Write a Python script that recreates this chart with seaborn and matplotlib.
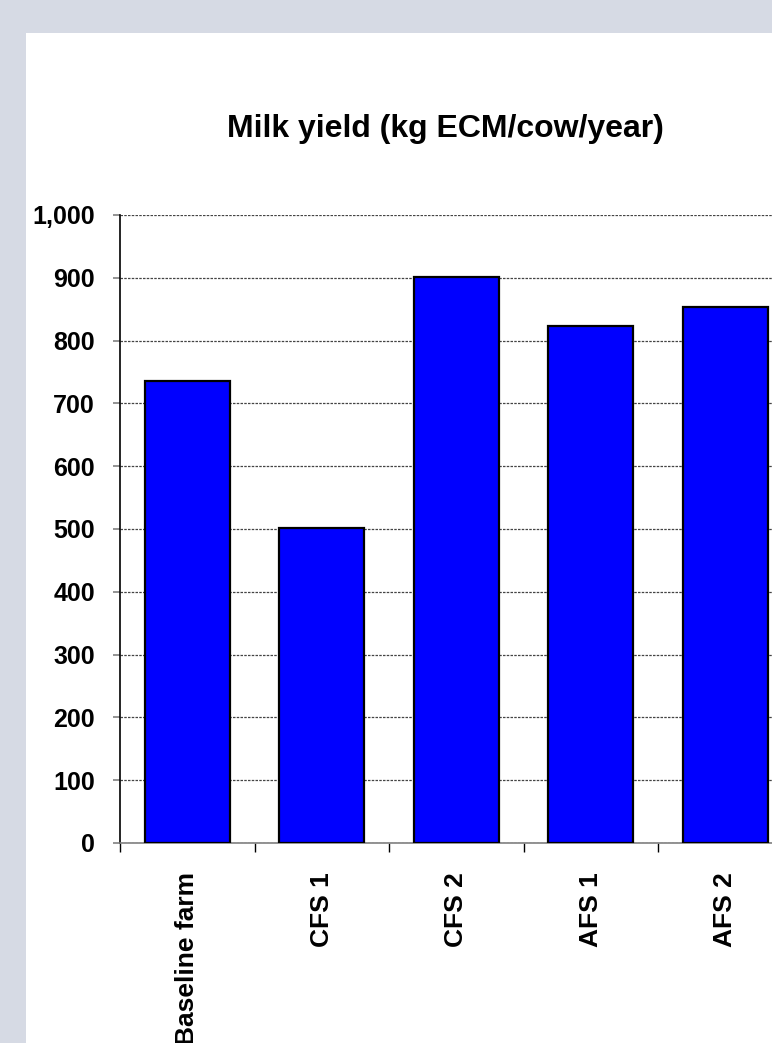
import matplotlib
matplotlib.use("Agg")
import matplotlib.pyplot as plt
import seaborn as sns
import numpy as np
from matplotlib.patches import Rectangle
from matplotlib.ticker import FuncFormatter, FixedLocator

categories = ["Baseline farm", "CFS 1", "CFS 2", "AFS 1", "AFS 2"]
milk_yield = [736, 501, 902, 824, 853]
y_ticks = [0, 100, 200, 300, 400, 500, 600, 700, 800, 900, 1000]
title = "Milk yield (kg ECM/cow/year)"

sns.set_style("white")
plt.rcParams["font.family"] = ["Liberation Sans", "DejaVu Sans"]
plt.rcParams["font.weight"] = "bold"
plt.rcParams["text.color"] = "black"
plt.rcParams["xtick.color"] = "black"
plt.rcParams["ytick.color"] = "black"
plt.rcParams["xtick.labelcolor"] = "black"
plt.rcParams["ytick.labelcolor"] = "black"

W, H = 772, 1043
fig = plt.figure(figsize=(W / 100, H / 100), dpi=100, facecolor="#d6dae4")
fig.patches.append(Rectangle((26 / W, 0), 1, 1 - 33 / H, transform=fig.transFigure,
                             facecolor="white", edgecolor="none", zorder=-1))

left, right, top, bottom = 120, 792.5, 215, 843
ax = fig.add_axes([left / W, 1 - bottom / H, (right - left) / W, (bottom - top) / H])
ax.set_facecolor("none")

sns.barplot(x=categories, y=milk_yield, color="#0000ff", saturation=1,
            edgecolor="black", linewidth=1.6, width=0.63, ax=ax, zorder=3)

ax.set_xlim(-0.5, 4.5)
ax.set_ylim(0, 1000)
ax.set_yticks(y_ticks)
ax.yaxis.set_major_formatter(FuncFormatter(lambda v, p: f"{v:,.0f}"))
ax.grid(axis="y", color="#444444", linestyle=(0, (2, 1)), linewidth=0.9)
ax.set_axisbelow(True)

for s in ["top", "right"]:
    ax.spines[s].set_visible(False)
ax.spines["left"].set_color("black")
ax.spines["left"].set_linewidth(1.2)
ax.spines["bottom"].set_color("#808080")
ax.spines["bottom"].set_linewidth(1.2)

ax.tick_params(axis="y", which="major", left=True, direction="out", length=5, width=1.2,
               color="#808080", labelcolor="black", pad=13, labelsize=18)
for lab in ax.get_yticklabels():
    lab.set_fontweight("bold")

ax.xaxis.set_minor_locator(FixedLocator(np.arange(-0.5, 5, 1.0)))
ax.tick_params(axis="x", which="minor", bottom=True, direction="out", length=6.5,
               width=1.0, color="black")
ax.tick_params(axis="x", which="major", bottom=True, length=0, pad=21, labelsize=19,
               labelcolor="black")
ax.set_xticks(range(len(categories)))
ax.set_xticklabels(categories, rotation=90, fontweight="bold", va="top", ha="center")
ax.set_xlabel("")
ax.set_ylabel("")

fig.text(445.5 / W, 1 - 137 / H, title, ha="center", va="baseline",
         fontsize=23, fontweight="bold", color="black")

fig.savefig("out.png", dpi=100, facecolor=fig.get_facecolor())
